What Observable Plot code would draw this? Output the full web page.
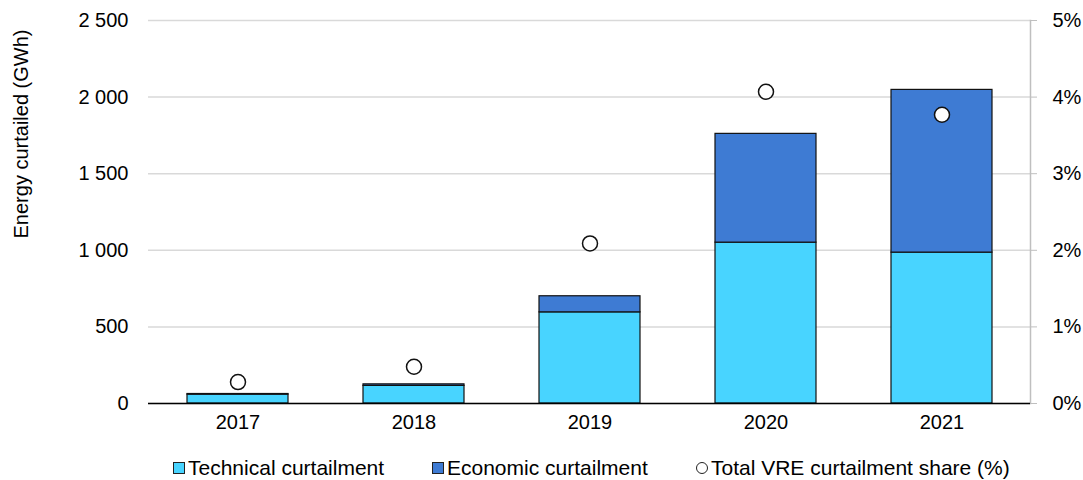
<!DOCTYPE html>
<html>
<head>
<meta charset="utf-8">
<script src="https://cdn.jsdelivr.net/npm/d3@7"></script>
<script src="https://cdn.jsdelivr.net/npm/@observablehq/plot@0.6"></script>
<style>
  body { margin: 0; background: #fff; font-family: "Liberation Sans", Arial, sans-serif; }
  #legend { position: relative; height: 40px; font-size: 21px; color: #000; }
  .item { position: absolute; top: 16px; display: flex; align-items: center; line-height: 24px; }
  .sw { width: 10px; height: 10px; border: 1px solid #222; margin-right: 3px; }
  .circ { width: 10px; height: 10px; border: 1px solid #222; border-radius: 50%; margin-right: 3px; background: #fff; }
</style>
</head>
<body>
<div id="chart"></div>
<div id="legend">
  <div class="item" style="left:173px"><span class="sw" style="background:#48D4FF"></span>Technical curtailment</div>
  <div class="item" style="left:432px"><span class="sw" style="background:#3E7BD3"></span>Economic curtailment</div>
  <div class="item" style="left:696px"><span class="circ"></span>Total VRE curtailment share (%)</div>
</div>
<script>
const years = ["2017", "2018", "2019", "2020", "2021"];
const technical = [58, 115, 595, 1050, 985];
const economic = [4, 10, 105, 710, 1062];
const sharePct = [0.28, 0.48, 2.09, 4.07, 3.77];
const leftTicks = [0, 500, 1000, 1500, 2000, 2500];
const types = ["Technical curtailment", "Economic curtailment"];
const colors = ["#48D4FF", "#3E7BD3"];
const yLabel = "Energy curtailed (GWh)";

const bars = [];
years.forEach((y, i) => {
  bars.push({year: y, type: types[0], value: technical[i]});
  bars.push({year: y, type: types[1], value: economic[i]});
});
const shares = years.map((y, i) => ({year: y, share: sharePct[i]}));
const fmt = d => d3.format(",")(d).replace(/,/g, " ");

const chart = Plot.plot({
  width: 1083,
  height: 440,
  marginLeft: 148,
  marginRight: 53,
  marginTop: 20,
  marginBottom: 37,
  style: {fontFamily: "Liberation Sans, Arial, sans-serif", fontSize: "20px", color: "#000", background: "#fff", overflow: "visible"},
  x: {domain: years, paddingInner: 0.428, paddingOuter: 0.215, label: null},
  y: {domain: [0, 2500], label: null},
  color: {domain: types, range: colors},
  marks: [
    Plot.gridY(leftTicks, {stroke: "#d9d9d9", strokeOpacity: 1, strokeWidth: 1.5}),
    Plot.frame({anchor: "right", stroke: "#bfbfbf", strokeWidth: 1.5}),
    Plot.barY(bars, {x: "year", y: "value", fill: "type", stroke: "#111", strokeWidth: 1.2}),
    Plot.ruleY([0], {stroke: "#000", strokeWidth: 1.5}),
    Plot.dot(shares, {x: "year", y: d => d.share * 500, r: 7.5, fill: "#fff", stroke: "#111", strokeWidth: 1.5}),
    Plot.axisX({tickSize: 0, tickPadding: 11, fontSize: 20}),
    Plot.axisY({anchor: "left", ticks: leftTicks, tickFormat: fmt, tickSize: 0, tickPadding: 20, fontSize: 20, label: null}),
    Plot.axisY({anchor: "right", ticks: leftTicks, tickFormat: d => (d / 500) + "%", tickSize: 6, tickPadding: 16,
      stroke: "#bfbfbf", fontSize: 20, label: null}),
    Plot.text([yLabel], {frameAnchor: "left", textAnchor: "middle", rotate: -90, dx: -127, dy: -78, fontSize: 20, fill: "#000"})
  ]
});
document.getElementById("chart").appendChild(chart);
</script>
</body>
</html>
